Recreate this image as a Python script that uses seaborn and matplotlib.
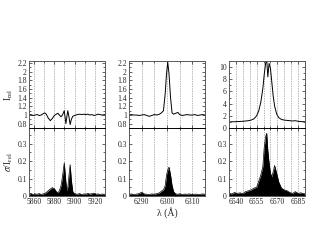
import numpy as np
import matplotlib
matplotlib.use("Agg")
import matplotlib.pyplot as plt
import seaborn as sns
from matplotlib.ticker import MultipleLocator

sns.set_style("ticks")
plt.rcParams['font.family'] = ['Liberation Serif', 'DejaVu Serif']
plt.rcParams['mathtext.fontset'] = 'stix'

# ---------------- datos ----------------
# Na D (panel 1)
wl_na = [5855, 5857, 5859, 5861, 5863, 5865, 5867, 5869, 5870.5, 5872, 5874, 5876, 5878,
         5880, 5882, 5883.5, 5885, 5886.6, 5888, 5889.8, 5891.4, 5892.3, 5893.3, 5894.5,
         5895.6, 5896.8, 5898.2, 5900, 5902.7, 5905, 5907, 5909, 5911, 5913, 5915, 5917,
         5919, 5921, 5923, 5925, 5927, 5930]
irel_na = [1.00, 1.01, 0.99, 1.00, 1.01, 0.99, 1.00, 1.03, 1.05, 1.02, 0.93, 0.87, 0.92,
           0.99, 1.02, 1.04, 1.00, 0.96, 1.00, 1.10, 0.80, 0.95, 1.10, 0.95,
           0.78, 0.90, 0.97, 0.99, 1.01, 1.02, 1.01, 1.02, 1.01, 1.02, 1.00, 1.01,
           0.99, 1.00, 1.02, 1.01, 1.00, 1.01]
sig_na = [0.010, 0.015, 0.008, 0.012, 0.010, 0.014, 0.009, 0.012, 0.015, 0.020, 0.030, 0.040, 0.048,
          0.042, 0.025, 0.018, 0.030, 0.060, 0.110, 0.190, 0.080, 0.030, 0.050, 0.120,
          0.180, 0.090, 0.025, 0.012, 0.010, 0.014, 0.008, 0.012, 0.010, 0.015, 0.011, 0.013,
          0.016, 0.010, 0.012, 0.009, 0.011, 0.010]

# [O I] 6300 (panel 2)
wl_oi = [6285, 6286, 6287, 6288, 6289, 6290, 6291, 6292, 6293, 6294, 6295, 6296, 6297,
         6297.8, 6298.6, 6299.3, 6299.8, 6300.3, 6300.8, 6301.4, 6302, 6302.6, 6303.4,
         6304.3, 6305, 6306, 6307, 6308, 6309, 6310, 6311, 6312, 6313, 6314, 6315]
irel_oi = [1.00, 1.01, 1.00, 1.00, 0.99, 1.00, 1.01, 0.99, 0.97, 0.99, 1.01, 1.00, 1.02,
           1.05, 1.10, 1.50, 1.95, 2.22, 1.95, 1.40, 1.05, 1.02, 1.04,
           1.06, 1.01, 0.99, 1.00, 1.01, 1.00, 1.00, 1.01, 0.99, 1.00, 1.01, 1.00]
sig_oi = [0.010, 0.012, 0.008, 0.011, 0.014, 0.022, 0.012, 0.010, 0.009, 0.012, 0.010, 0.014, 0.018,
          0.028, 0.035, 0.060, 0.120, 0.150, 0.166, 0.120, 0.060, 0.025, 0.012,
          0.010, 0.013, 0.009, 0.011, 0.010, 0.012, 0.008, 0.011, 0.010, 0.009, 0.012, 0.010]

# H alpha (panel 3)
wl_ha = [6535, 6537, 6539, 6541, 6543, 6545, 6547, 6549, 6551, 6553, 6555, 6556.5, 6558,
         6559.5, 6560.5, 6561.5, 6562.3, 6563.1, 6564, 6565, 6566, 6567, 6568, 6569.5,
         6571, 6573, 6575, 6577, 6579, 6581, 6583, 6585, 6587, 6590]
irel_ha = [1.00, 1.02, 1.03, 1.05, 1.08, 1.10, 1.15, 1.20, 1.30, 1.50, 2.00, 2.80, 4.20,
           6.50, 8.80, 10.6, 11.2, 8.40, 10.6, 9.80, 7.50, 5.20, 3.60, 2.30,
           1.70, 1.40, 1.30, 1.25, 1.20, 1.15, 1.20, 1.10, 1.05, 1.02]
sig_ha = [0.015, 0.012, 0.020, 0.015, 0.018, 0.014, 0.025, 0.030, 0.035, 0.045, 0.050, 0.085, 0.120,
          0.170, 0.280, 0.340, 0.360, 0.260, 0.190, 0.130, 0.110, 0.140, 0.175, 0.130,
          0.080, 0.045, 0.035, 0.030, 0.020, 0.015, 0.025, 0.015, 0.018, 0.012]

paneles = [
    dict(wl=wl_na, irel=irel_na, sig=sig_na, xlim=(5855, 5930), grid=10, labs=[5860, 5880, 5900, 5920],
         ylim=(0.7, 2.25), ymaj=0.2, ymin=0.1, left=29),
    dict(wl=wl_oi, irel=irel_oi, sig=sig_oi, xlim=(6285, 6315), grid=5, labs=[6290, 6300, 6310],
         ylim=(0.7, 2.25), ymaj=0.2, ymin=0.1, left=129),
    dict(wl=wl_ha, irel=irel_ha, sig=sig_ha, xlim=(6535, 6590), grid=5, labs=[6540, 6555, 6570, 6585],
         ylim=(0, 11), ymaj=2, ymin=1, left=229),
]

W, H = 317, 245
fig = plt.figure(figsize=(W / 100, H / 100), dpi=100)
fs = 5.5

for i, p in enumerate(paneles):
    x0 = p['left'] / W
    w = 76 / W
    ax_up = fig.add_axes([x0, 1 - 128 / H, w, 67 / H])
    ax_lo = fig.add_axes([x0, 1 - 196 / H, w, 68 / H])

    sns.lineplot(x=p['wl'], y=p['irel'], ax=ax_up, color='black', lw=0.7)
    ax_lo.fill_between(p['wl'], 0, p['sig'], color='black', lw=0)
    sns.lineplot(x=p['wl'], y=p['sig'], ax=ax_lo, color='black', lw=0.5)

    grid_pos = np.arange(p['xlim'][0] - p['xlim'][0] % p['grid'] + p['grid'], p['xlim'][1], p['grid'])
    for ax in (ax_up, ax_lo):
        ax.set_xlim(p['xlim'])
        for g in grid_pos:
            ax.axvline(g, color='0.6', lw=0.5, ls=(0, (2, 1.5)), zorder=0)
        ax.tick_params(axis='both', which='both', direction='in', top=True, right=True,
                       labelsize=fs, width=0.5, pad=1.5)
        ax.tick_params(which='major', length=2.5)
        ax.tick_params(which='minor', length=1.5)
        for s in ax.spines.values():
            s.set_linewidth(0.7)
            s.set_color('0.35')
        ax.set_xticks(grid_pos, minor=True)
        ax.set_xticks(p['labs'])

    ax_up.set_ylim(p['ylim'])
    ax_up.yaxis.set_major_locator(MultipleLocator(p['ymaj']))
    ax_up.yaxis.set_minor_locator(MultipleLocator(p['ymin']))
    ax_up.set_xticklabels([])
    if i < 2:
        ax_up.set_yticks(np.round(np.arange(0.8, 2.21, 0.2), 1))
        ax_up.set_yticklabels(['0.8', '1', '1.2', '1.4', '1.6', '1.8', '2', '2.2'])
    ax_up.spines['bottom'].set_color('black')

    ax_lo.set_ylim(0, 0.39)
    ax_lo.set_yticks([0, 0.1, 0.2, 0.3])
    ax_lo.set_yticklabels(['0', '0.1', '0.2', '0.3'])
    ax_lo.yaxis.set_minor_locator(MultipleLocator(0.05))
    ax_lo.spines['top'].set_color('black')

    if i == 0:
        ax_up.set_ylabel(r'I$_{\rm rel}$', fontsize=7, labelpad=2)
        ax_lo.set_ylabel(r'$\sigma$/I$_{\rm rel}$', fontsize=7, labelpad=2)
    if i == 1:
        ax_lo.set_xlabel('λ (Å)', fontsize=7, labelpad=1)

fig.savefig('out.png', dpi=100)
